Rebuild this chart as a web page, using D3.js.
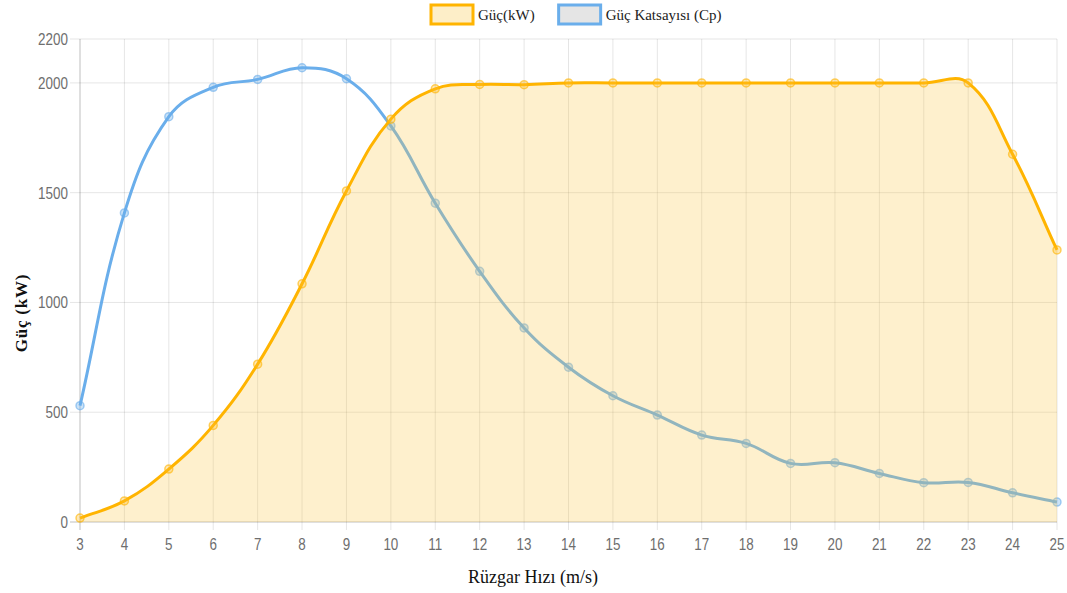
<!DOCTYPE html>
<html>
<head>
<meta charset="utf-8">
<script src="https://cdnjs.cloudflare.com/ajax/libs/d3/7.8.5/d3.min.js"></script>
<style>
  body { margin: 0; background: #fff; }
  svg { display: block; }
</style>
</head>
<body>
<svg id="chart"></svg>
<script>
const width = 1067;
const height = 593;

// rüzgar hızı (m/s)
const windSpeed = [3, 4, 5, 6, 7, 8, 9, 10, 11, 12, 13, 14, 15, 16, 17, 18, 19, 20, 21, 22, 23, 24, 25];
// Güç (kW)
const power = [18, 96, 241, 440, 719, 1085, 1508, 1835, 1973, 1993, 1992, 2000, 2000, 2000, 2000, 2000,
    2000, 2000, 2000, 2000, 2000, 1675, 1239];
// Güç Katsayısı (Cp), drawn on the same axis
const cp = [530, 1408, 1846, 1980, 2016, 2069, 2019, 1804, 1452, 1142, 884, 705, 575, 487, 396, 358,
    267, 270, 221, 179, 180, 133, 91];
const yTicks = [0, 500, 1000, 1500, 2000, 2200];
const seriesNames = ["Güç(kW)", "Güç Katsayısı (Cp)"];

const tickFont = "'Liberation Sans', Arial, sans-serif";
const serifFont = "'Liberation Serif', 'DejaVu Serif', serif";

const yellow = "#ffb400";
const blue = "#6aaeeb";

const plotLeft = 80, plotRight = 1057, plotTop = 39, plotBottom = 522;

const x = d3.scalePoint().domain(windSpeed).range([plotLeft, plotRight]);
const y = d3.scaleLinear().domain([0, 2200]).range([plotBottom, plotTop]);

const svg = d3.select("#chart")
    .attr("width", width)
    .attr("height", height);

svg.append("rect").attr("width", width).attr("height", height).attr("fill", "#fff");

// chart.js style bezier (tension 0.4)
function splinePath(pts, tension, ctx) {
    const clampX = v => Math.max(plotLeft, Math.min(plotRight, v));
    const clampY = v => Math.max(plotTop, Math.min(plotBottom, v));
    const cps = pts.map((cur, i) => {
        const prev = pts[i - 1] || cur;
        const next = pts[i + 1] || cur;
        const d01 = Math.hypot(cur[0] - prev[0], cur[1] - prev[1]);
        const d12 = Math.hypot(next[0] - cur[0], next[1] - cur[1]);
        let s01 = d01 / (d01 + d12), s12 = d12 / (d01 + d12);
        if (isNaN(s01)) s01 = 0;
        if (isNaN(s12)) s12 = 0;
        const fa = tension * s01, fb = tension * s12;
        return {
            prev: [clampX(cur[0] - fa * (next[0] - prev[0])), clampY(cur[1] - fa * (next[1] - prev[1]))],
            next: [clampX(cur[0] + fb * (next[0] - prev[0])), clampY(cur[1] + fb * (next[1] - prev[1]))]
        };
    });
    ctx.moveTo(pts[0][0], pts[0][1]);
    for (let i = 1; i < pts.length; i++) {
        ctx.bezierCurveTo(cps[i - 1].next[0], cps[i - 1].next[1], cps[i].prev[0], cps[i].prev[1], pts[i][0], pts[i][1]);
    }
    return ctx;
}

// grid
const grid = svg.append("g");
grid.selectAll("line.v").data(windSpeed).enter()
    .append("line")
    .attr("x1", d => x(d)).attr("x2", d => x(d))
    .attr("y1", plotTop).attr("y2", plotBottom + 8)
    .attr("stroke", d => d === windSpeed[0] ? "rgba(0,0,0,0.25)" : "rgba(0,0,0,0.1)")
    .attr("stroke-width", 1);
grid.selectAll("line.h").data(yTicks).enter()
    .append("line")
    .attr("x1", plotLeft - 10).attr("x2", plotRight)
    .attr("y1", d => y(d)).attr("y2", d => y(d))
    .attr("stroke", d => d === 0 ? "rgba(0,0,0,0.25)" : "rgba(0,0,0,0.1)")
    .attr("stroke-width", 1);

// tick labels (narrowed like the original)
svg.append("g").selectAll("text").data(yTicks).enter()
    .append("text")
    .attr("transform", d => "translate(" + (plotLeft - 12) + "," + (y(d) + 6) + ") scale(0.84,1)")
    .attr("text-anchor", "end")
    .attr("font-family", tickFont)
    .attr("font-size", 16)
    .attr("fill", "#6e6e6e")
    .text(d => d);

svg.append("g").selectAll("text").data(windSpeed).enter()
    .append("text")
    .attr("transform", d => "translate(" + x(d) + "," + (plotBottom + 28) + ") scale(0.84,1)")
    .attr("text-anchor", "middle")
    .attr("font-family", tickFont)
    .attr("font-size", 16)
    .attr("fill", "#6e6e6e")
    .text(d => d);

// Cp line (under the power fill)
const cpPts = windSpeed.map((d, i) => [x(d), y(cp[i])]);
svg.append("path")
    .attr("d", splinePath(cpPts, 0.4, d3.path()).toString())
    .attr("fill", "none")
    .attr("stroke", blue)
    .attr("stroke-width", 3);
svg.append("g").selectAll("circle").data(cpPts).enter()
    .append("circle")
    .attr("cx", d => d[0]).attr("cy", d => d[1])
    .attr("r", 4)
    .attr("fill", "rgba(106,174,235,0.35)")
    .attr("stroke", "rgba(106,174,235,0.6)")
    .attr("stroke-width", 1.5);

// power area + line
const powPts = windSpeed.map((d, i) => [x(d), y(power[i])]);
const area = splinePath(powPts, 0.4, d3.path());
area.lineTo(x(windSpeed[windSpeed.length - 1]), y(0));
area.lineTo(x(windSpeed[0]), y(0));
area.closePath();
svg.append("path")
    .attr("d", area.toString())
    .attr("fill", "rgba(250,200,70,0.27)");
svg.append("path")
    .attr("d", splinePath(powPts, 0.4, d3.path()).toString())
    .attr("fill", "none")
    .attr("stroke", yellow)
    .attr("stroke-width", 3);
svg.append("g").selectAll("circle").data(powPts).enter()
    .append("circle")
    .attr("cx", d => d[0]).attr("cy", d => d[1])
    .attr("r", 4)
    .attr("fill", "rgba(255,190,40,0.35)")
    .attr("stroke", "rgba(255,180,0,0.6)")
    .attr("stroke-width", 1.5);

// axis titles
svg.append("text")
    .attr("transform", "translate(" + 27 + "," + 313 + ") rotate(-90)")
    .attr("text-anchor", "middle")
    .attr("font-family", serifFont)
    .attr("font-weight", "bold")
    .attr("font-size", 17)
    .attr("letter-spacing", 0.8)
    .attr("fill", "#111")
    .text("Güç (kW)");

svg.append("text")
    .attr("x", 533)
    .attr("y", 583)
    .attr("text-anchor", "middle")
    .attr("font-family", serifFont)
    .attr("font-size", 18)
    .attr("fill", "#111")
    .text("Rüzgar Hızı (m/s)");

// legend
const legendItems = [
    { name: seriesNames[0], stroke: yellow, fill: "#fdeec8" },
    { name: seriesNames[1], stroke: blue, fill: "#e5e5e5" }
];
const legend = svg.append("g");
let lx = 431;
legendItems.forEach(item => {
    legend.append("rect")
        .attr("x", lx).attr("y", 5)
        .attr("width", 42).attr("height", 19)
        .attr("fill", item.fill)
        .attr("stroke", item.stroke)
        .attr("stroke-width", 3);
    const t = legend.append("text")
        .attr("x", lx + 47)
        .attr("y", 20)
        .attr("font-family", serifFont)
        .attr("font-size", 15)
        .attr("fill", "#222")
        .text(item.name);
    lx += 47 + t.node().getComputedTextLength() + 24;
});
</script>
</body>
</html>
